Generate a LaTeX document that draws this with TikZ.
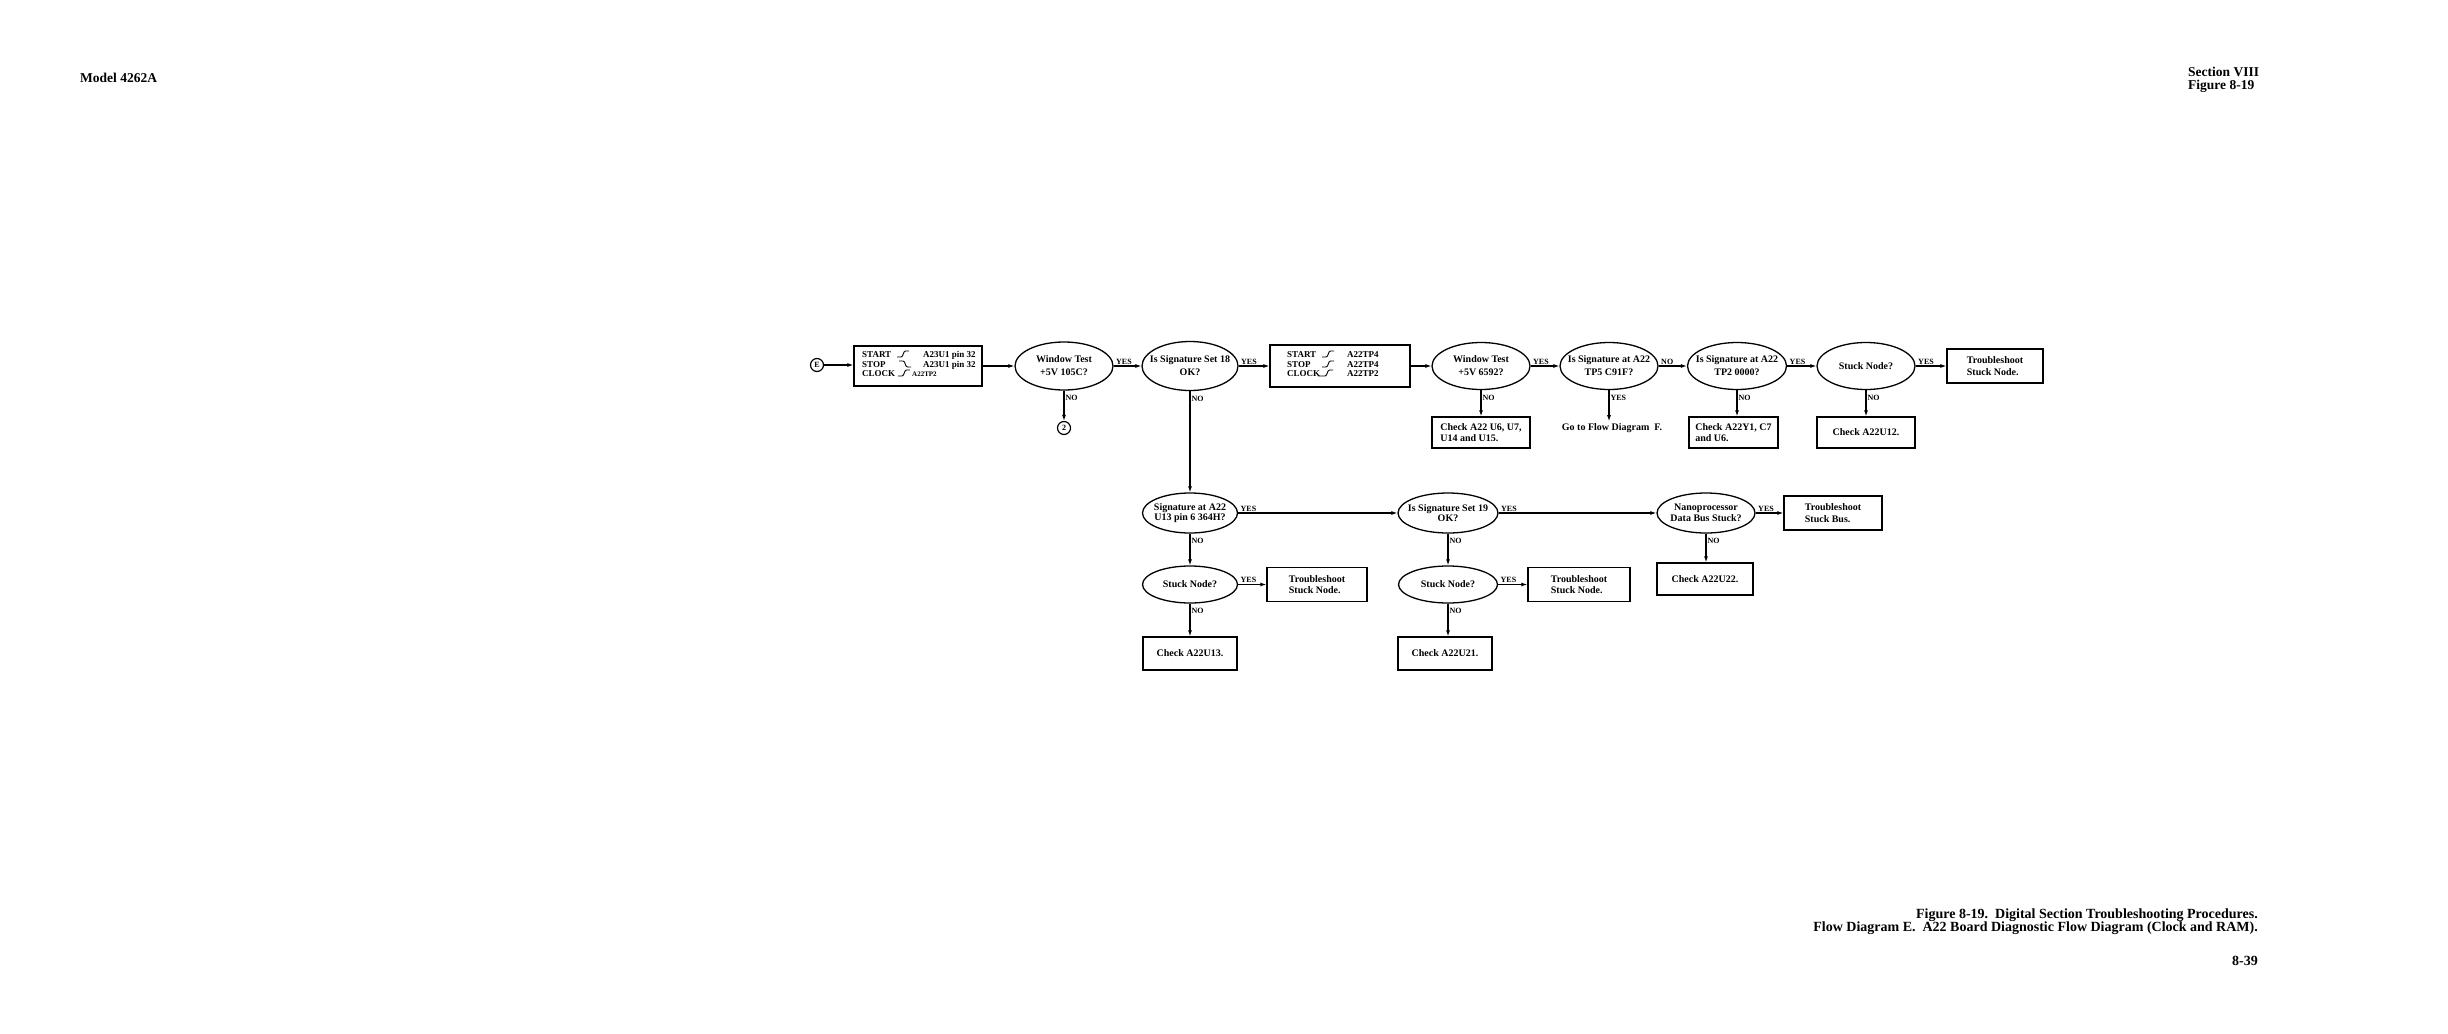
\documentclass[tikz,border=0pt]{standalone}
\usepackage{fontspec}
\setmainfont{Liberation Serif}
\usetikzlibrary{shapes.geometric,arrows.meta}
\begin{document}
\begin{tikzpicture}[x=1pt,y=-1pt,
  dec/.style={ellipse, draw, line width=1.3pt, inner sep=0pt},
  dectxt/.style={align=center, inner sep=0pt, font=\fontsize{10}{13}\selectfont\bfseries},
  dectxtb/.style={align=center, inner sep=0pt, font=\fontsize{10}{10.5}\selectfont\bfseries},
  procbox/.style={rectangle, draw, line width=1.3pt, inner sep=0pt, align=left,
    font=\fontsize{10}{11.5}\selectfont\bfseries},
  arr/.style={line width=1.1pt, -{Latex[length=6pt,width=4pt]}},
  lbl/.style={font=\fontsize{8}{9}\selectfont\bfseries, inner sep=1pt},
  boxtxt/.style={font=\fontsize{9}{9.5}\selectfont\bfseries, inner sep=0pt},
  smalltxt/.style={font=\fontsize{7}{8}\selectfont\bfseries, inner sep=0pt},
  conn/.style={circle, draw, line width=1.2pt, minimum size=13pt, inner sep=0pt,
    font=\fontsize{8}{8}\selectfont\bfseries},
  hdr/.style={font=\fontsize{13.5}{13}\selectfont\bfseries, inner sep=0pt},
  captxt/.style={font=\fontsize{14}{13}\selectfont\bfseries, inner sep=0pt},
  wup/.pic={\draw[line width=0.9pt] (0,0) -- (4,0) .. controls (6.5,0) and (6,-6) .. (8.5,-6) -- (12,-6);},
  wdown/.pic={\draw[line width=0.9pt] (0,-6) -- (4,-6) .. controls (6.5,-6) and (6,0) .. (8.5,0) -- (12,0);},
  wupl/.pic={\draw[line width=0.9pt] (0,0) -- (7,0) .. controls (9.5,0) and (9,-6) .. (11.5,-6) -- (15,-6);}
]
\useasboundingbox (0,0) rectangle (2448,1033);

% headers and caption
\node[hdr, anchor=base west] (model) at (80,82) {Model 4262A};
\node[hdr, anchor=base west] (sect) at (2188,77) {Section VIII};
\node[hdr, anchor=base west] (fignum) at (2188,89) {Figure 8-19};
\node[captxt, anchor=base east] (cap1) at (2258,918) {Figure 8-19.\ \ Digital Section Troubleshooting Procedures.};
\node[captxt, anchor=base east] (cap2) at (2258,931) {Flow Diagram E.\ \ A22 Board Diagnostic Flow Diagram (Clock and RAM).};
\node[captxt, anchor=base east] (page) at (2258,965) {8-39};

% row 1
\node[conn] (E) at (817,365) {E};
\node[procbox, minimum width=128pt, minimum height=40pt] (b1) at (918,366) {};
\node[boxtxt, anchor=base west] (b1s) at (862,357) {START};
\node[boxtxt, anchor=base west] (b1p) at (862,367) {STOP};
\node[boxtxt, anchor=base west] (b1c) at (862,376) {CLOCK};
\pic at (897,357) {wup};
\pic at (899,367) {wdown};
\pic at (898,376) {wup};
\node[boxtxt, anchor=base west] (b1sl) at (923,357) {A23U1 pin 32};
\node[boxtxt, anchor=base west] (b1pl) at (923,367) {A23U1 pin 32};
\node[smalltxt, anchor=base west] (b1cl) at (912,376) {A22TP2};

\node[dec, minimum width=98pt, minimum height=48pt] (e1) at (1064,366) {};
\node[dectxt] (e1t) at (e1) {Window Test\\+5V 105C?};
\node[conn] (c2) at (1064,428) {2};
\node[dec, minimum width=96pt, minimum height=49pt] (e2) at (1190,366) {};
\node[dectxt] (e2t) at (e2) {Is Signature Set 18\\OK?};

\node[procbox, minimum width=140pt, minimum height=42pt] (b2) at (1340,366) {};
\node[boxtxt, anchor=base west] (b2s) at (1287,357) {START};
\node[boxtxt, anchor=base west] (b2p) at (1287,367) {STOP};
\node[boxtxt, anchor=base west] (b2c) at (1287,376) {CLOCK};
\pic at (1322,357) {wup};
\pic at (1322,367) {wup};
\pic at (1318,376) {wupl};
\node[boxtxt, anchor=base west] (b2sl) at (1347,357) {A22TP4};
\node[boxtxt, anchor=base west] (b2pl) at (1347,367) {A22TP4};
\node[boxtxt, anchor=base west] (b2cl) at (1347,376) {A22TP2};

\node[dec, minimum width=98pt, minimum height=47pt] (e3) at (1481,366) {};
\node[dectxt] (e3t) at (e3) {Window Test\\+5V 6592?};
\node[procbox, minimum width=98pt, minimum height=31pt] (k3) at (1481,432.5) {Check A22 U6, U7,\\U14 and U15.};
\node[dec, minimum width=98pt, minimum height=47pt] (e4) at (1609,366) {};
\node[dectxt] (e4t) at (e4) {Is Signature at A22\\TP5 C91F?};
\node[font=\fontsize{10}{12}\selectfont\bfseries, inner sep=2pt] (goF) at (1612,428) {Go to Flow Diagram\ \ F.};
\node[dec, minimum width=99pt, minimum height=47pt] (e5) at (1737,366) {};
\node[dectxt] (e5t) at (e5) {Is Signature at A22\\TP2 0000?};
\node[procbox, minimum width=89pt, minimum height=31pt] (k5) at (1733.5,432.5) {Check A22Y1, C7\\and U6.};
\node[dec, minimum width=98pt, minimum height=47pt] (e6) at (1866,366) {};
\node[dectxt] (e6t) at (e6) {Stuck Node?};
\node[procbox, minimum width=98pt, minimum height=31pt] (k6) at (1866,432.5) {Check A22U12.};
\node[procbox, minimum width=96pt, minimum height=34pt] (t1) at (1995,366) {Troubleshoot\\Stuck Node.};

% row 2
\node[dec, minimum width=95pt, minimum height=40pt] (e7) at (1190,513) {};
\node[dectxtb] (e7t) at (e7) {Signature at A22\\U13 pin 6 364H?};
\node[dec, minimum width=100pt, minimum height=40pt] (e8) at (1448,513) {};
\node[dectxtb] (e8t) at (e8) {Is Signature Set 19\\OK?};
\node[dec, minimum width=98pt, minimum height=40pt] (e9) at (1706,513) {};
\node[dectxtb] (e9t) at (e9) {Nanoprocessor\\Data Bus Stuck?};
\node[procbox, minimum width=98pt, minimum height=34pt] (tb) at (1833,513) {Troubleshoot\\Stuck Bus.};
\node[procbox, minimum width=96pt, minimum height=32pt] (k9) at (1705,579) {Check A22U22.};

% row 3
\node[dec, minimum width=95pt, minimum height=37pt] (e10) at (1190,584.5) {};
\node[dectxt] (e10t) at (e10) {Stuck Node?};
\node[procbox, minimum width=100pt, minimum height=34pt] (t2) at (1317,584.5) {Troubleshoot\\Stuck Node.};
\node[procbox, minimum width=94pt, minimum height=33pt] (k10) at (1190,653.5) {Check A22U13.};
\node[dec, minimum width=99pt, minimum height=37pt] (e11) at (1448,584.5) {};
\node[dectxt] (e11t) at (e11) {Stuck Node?};
\node[procbox, minimum width=102pt, minimum height=34pt] (t3) at (1579,584.5) {Troubleshoot\\Stuck Node.};
\node[procbox, minimum width=94pt, minimum height=33pt] (k11) at (1445,653.5) {Check A22U21.};

% connectors row 1
\draw[arr] (E.east) -- (b1.west |- E.east);
\draw[arr] (b1.east) -- (e1.west);
\draw[arr] (e1.east) -- node[lbl, pos=0, anchor=south west, xshift=1pt] {YES} (e2.west);
\draw[arr] (e1.south) -- node[lbl, pos=0, anchor=north west, yshift=-3pt] {NO} (c2.north);
\draw[arr] (e2.east) -- node[lbl, pos=0, anchor=south west, xshift=1pt] {YES} (b2.west);
\draw[arr] (e2.south) -- node[lbl, pos=0, anchor=north west, yshift=-3pt] {NO} (e7.north);
\draw[arr] (b2.east) -- (e3.west);
\draw[arr] (e3.east) -- node[lbl, pos=0, anchor=south west, xshift=1pt] {YES} (e4.west);
\draw[arr] (e3.south) -- node[lbl, pos=0, anchor=north west, yshift=-3pt] {NO} (e3.south |- k3.north);
\draw[arr] (e4.east) -- node[lbl, pos=0, anchor=south west, xshift=1pt] {NO} (e5.west);
\draw[arr] (e4.south) -- node[lbl, pos=0, anchor=north west, yshift=-3pt] {YES} (e4.south |- goF.north);
\draw[arr] (e5.east) -- node[lbl, pos=0, anchor=south west, xshift=1pt] {YES} (e6.west);
\draw[arr] (e5.south) -- node[lbl, pos=0, anchor=north west, yshift=-3pt] {NO} (e5.south |- k5.north);
\draw[arr] (e6.east) -- node[lbl, pos=0, anchor=south west, xshift=1pt] {YES} (t1.west);
\draw[arr] (e6.south) -- node[lbl, pos=0, anchor=north west, yshift=-3pt] {NO} (k6.north);

% connectors row 2
\draw[arr] (e7.east) -- node[lbl, pos=0, anchor=south west, xshift=1pt] {YES} (e8.west);
\draw[arr] (e8.east) -- node[lbl, pos=0, anchor=south west, xshift=1pt] {YES} (e9.west);
\draw[arr] (e9.east) -- node[lbl, pos=0, anchor=south west, xshift=1pt] {YES} (tb.west);
\draw[arr] (e9.south) -- node[lbl, pos=0, anchor=north west, yshift=-3pt] {NO} (e9.south |- k9.north);
\draw[arr] (e7.south) -- node[lbl, pos=0, anchor=north west, yshift=-3pt] {NO} (e10.north);
\draw[arr] (e8.south) -- node[lbl, pos=0, anchor=north west, yshift=-3pt] {NO} (e11.north);

% connectors row 3
\draw[arr] (e10.east) -- node[lbl, pos=0, anchor=south west, xshift=1pt] {YES} (t2.west);
\draw[arr] (e10.south) -- node[lbl, pos=0, anchor=north west, yshift=-3pt] {NO} (k10.north);
\draw[arr] (e11.east) -- node[lbl, pos=0, anchor=south west, xshift=1pt] {YES} (t3.west);
\draw[arr] (e11.south) -- node[lbl, pos=0, anchor=north west, yshift=-3pt] {NO} (e11.south |- k11.north);
\end{tikzpicture}
\end{document}
